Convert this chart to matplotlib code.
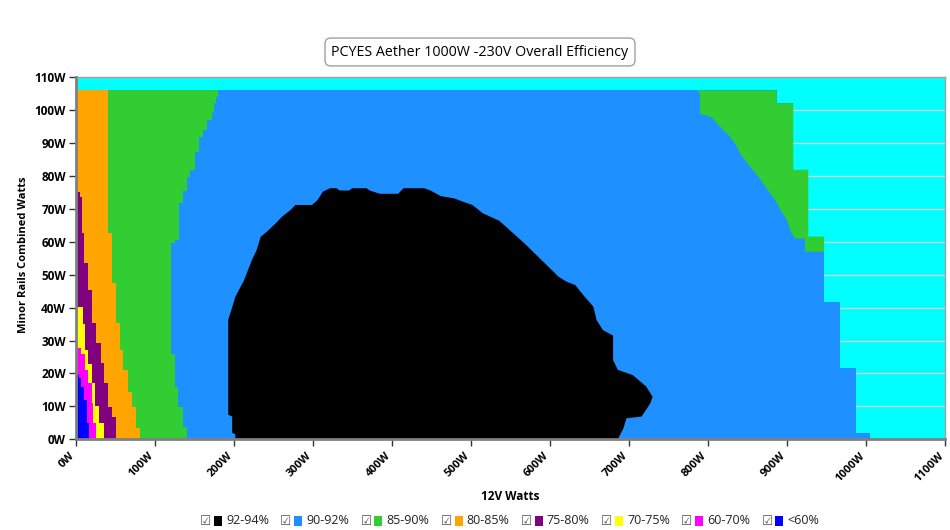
import numpy as np
import matplotlib
matplotlib.use("Agg")
import matplotlib.pyplot as plt
from matplotlib.patches import Rectangle
from matplotlib.transforms import ScaledTranslation

# ---------------- data ----------------
title = "PCYES Aether 1000W -230V Overall Efficiency"
x_label = "12V Watts"
y_label = "Minor Rails Combined Watts"
x_ticks = list(range(0, 1101, 100))
y_ticks = list(range(0, 111, 10))
x_tick_labels = [f"{v}W" for v in x_ticks]
y_tick_labels = [f"{v}W" for v in y_ticks]

band_labels = ["92-94%", "90-92%", "85-90%", "80-85%", "75-80%", "70-75%", "60-70%", "<60%"]
band_colors = ["#000000", "#1E90FF", "#32CD32", "#FFA500", "#800080", "#FFFF00", "#FF00FF", "#0000FF"]
background_color = "#00FFFF"

# outer edge of measured area (step: x value holds between consecutive y edges)
outer_y = [0, 1.8, 21.6, 41.8, 61.6, 81.9, 102.1, 106]
outer_x = [1005, 987, 967, 947, 927, 908, 887]

# left-side bands: right edge as steps from x = 0
green_y = [0, 3.8, 9.9, 15.8, 25.9, 59.6, 60.6, 71.7, 75.3, 79.8, 81.9, 87.4, 92, 94, 97.1, 99.1, 102.1, 104.1, 106]
green_x = [140.4, 136.2, 129.9, 125.6, 120.6, 125.6, 131.1, 136.2, 140.4, 144.6, 150.9, 156.4, 161.5, 165.7, 172, 175, 177.6, 180.5]

orange_y = [0, 3.3, 9.9, 14.5, 21.0, 27.1, 35.2, 47.4, 62.6, 106]
orange_x = [81.4, 76.3, 70.8, 66.6, 60.3, 56.0, 50.6, 45.5, 41.3]

purple_y = [0, 6.9, 9.9, 17, 23.1, 29.2, 35.2, 45.4, 53.5, 62.6, 73.5, 75.0]
purple_x = [51, 45.5, 41.3, 35.8, 31.6, 25.7, 21, 16, 10.5, 8.0, 5.4]

yellow_y = [0, 5, 10, 17, 23, 27, 35, 40.3]
yellow_x = [35.8, 30, 24.4, 20.2, 16, 11.8, 8.8]

magenta_y = [0, 5, 11, 17, 21, 26, 27.6]
magenta_x = [25.7, 22.3, 20, 16, 12, 7]

low_y = [0, 5, 12, 16, 18.5, 19.5]
low_x = [17, 14, 10, 7, 4]

# right-side 85-90% region: left boundary (x, y) bottom -> top
green_r_x = [923, 923, 910, 904, 900, 893, 885, 874, 864, 853, 843, 834, 828, 815, 805, 790, 790, 786]
green_r_y = [57, 61, 61, 63.6, 66.7, 69.2, 72.8, 76.3, 79.8, 83, 86, 90, 92, 95, 97.8, 99, 105, 106]

# 92-94% island outline
black_x = [202, 202, 198, 198, 193, 193, 197, 202, 213, 218, 223, 229, 234, 242, 253, 261, 272, 278,
           299, 306, 313, 322, 330, 334, 346, 350, 368, 372, 385, 408, 415, 441, 449, 462, 479, 490,
           502, 515, 536, 549, 568, 585, 600, 611, 621, 632, 642, 655, 659, 667, 680, 680, 686, 705,
           722, 730, 727, 716, 697, 693, 686]
black_y = [0, 1.5, 2, 6.9, 7.5, 36.3, 39.3, 43.3, 48.3, 51.4, 54.5, 57.5, 61.5, 63.1, 65.6, 67.6, 69.7, 71.2,
           71.2, 72.7, 75.3, 76.3, 76.3, 75.6, 75.6, 76.3, 76.3, 75.6, 74.6, 74.6, 76.3, 76.3, 75.6, 73.9, 73.2, 72.2,
           71.2, 68.7, 66.4, 63.6, 59.5, 55.5, 52, 49.4, 47.9, 46.9, 43.9, 40.3, 36.3, 33.2, 31.5, 24.1, 21.1, 19.5,
           16, 12.9, 10.9, 6.9, 6.4, 3.3, 0]


def step_between(y_edges, x_vals, ylo=None, yhi=None):
    ylo = y_edges[0] if ylo is None else ylo
    yhi = y_edges[-1] if yhi is None else yhi
    xs, ys = [], []
    for i, xv in enumerate(x_vals):
        a, b = max(y_edges[i], ylo), min(y_edges[i + 1], yhi)
        if b > a:
            xs += [xv, xv]
            ys += [a, b]
    return xs, ys


def left_band(ax, y_edges, x_vals, color, z):
    sx, sy = step_between(y_edges, x_vals)
    ax.fill([0] + sx + [0], [y_edges[0]] + sy + [y_edges[-1]], color=color, lw=0, zorder=z)


# ---------------- figure ----------------
plt.rcParams["font.family"] = ["Open Sans", "DejaVu Sans"]
fig = plt.figure(figsize=(9.5, 5.3), dpi=100)
ax = fig.add_axes([75.7 / 950, 1 - 439.3 / 530, (945 - 75.7) / 950, (439.3 - 77.3) / 530])
ax.set_facecolor(background_color)

# 90-92% base
left_band(ax, outer_y, outer_x, band_colors[1], 1)
# 85-90% right region
sx, sy = step_between(outer_y, outer_x, green_r_y[0], green_r_y[-1])
ax.fill(green_r_x + sx[::-1], green_r_y + sy[::-1], color=band_colors[2], lw=0, zorder=2)
# left bands
left_band(ax, green_y, green_x, band_colors[2], 2)
left_band(ax, orange_y, orange_x, band_colors[3], 3)
left_band(ax, purple_y, purple_x, band_colors[4], 4)
left_band(ax, yellow_y, yellow_x, band_colors[5], 5)
left_band(ax, magenta_y, magenta_x, band_colors[6], 6)
left_band(ax, low_y, low_x, band_colors[7], 7)
# 92-94% island
ax.fill(black_x, black_y, color=band_colors[0], lw=0, zorder=8)

ax.set_xlim(0, 1100)
ax.set_ylim(0, 110)
ax.set_yticks(y_ticks)
ax.set_yticklabels(y_tick_labels, fontsize=8.5, fontweight="bold")
ax.tick_params(direction="out", length=5, width=1, color="#333333", pad=2)
ax.tick_params(axis="x", pad=3)
ax.set_xticks(x_ticks)
ax.set_xticklabels(x_tick_labels, rotation=45, ha="right", va="top", rotation_mode="anchor",
                   fontsize=8, fontweight="bold")
shift = ScaledTranslation(-5 / 72, 0, fig.dpi_scale_trans)
for tick in ax.xaxis.get_major_ticks():
    tick.label1.set_transform(tick.label1.get_transform() + shift)
ax.yaxis.grid(True, color="#d0d0d0", lw=1)
ax.set_axisbelow(True)
for s in ["left", "bottom"]:
    ax.spines[s].set_color("#808080")
    ax.spines[s].set_linewidth(2)
for s in ["top", "right"]:
    ax.spines[s].set_color("#a0a0a0")
    ax.spines[s].set_linewidth(1)
ax.spines["left"].set_zorder(10)
ax.spines["bottom"].set_zorder(10)

ax_w = 945 - 75.7
ax_h = 439.3 - 77.3
ax.set_xlabel(x_label, fontsize=8.5, fontweight="bold", va="center")
ax.xaxis.set_label_coords((510 - 75.7) / ax_w, -(497 - 439.3) / ax_h)
ax.set_ylabel(y_label, fontsize=8, fontweight="bold", va="center")
ax.yaxis.set_label_coords(-(75.7 - 24) / ax_w, 0.5 + (258 - 254) / ax_h)

# title
fig.text(480 / 950, 1 - 52 / 530, title, ha="center", va="center", fontsize=10.3,
         bbox=dict(boxstyle="round,pad=0.45,rounding_size=0.4", fc="white", ec="#a0a0a0", lw=1))

# legend
y_leg = 1 - 521 / 530
start = 200
step = 80.2
for i, (lab, col) in enumerate(zip(band_labels, band_colors)):
    x0 = start + i * step
    fig.text(x0 / 950, y_leg, "\u2611", ha="left", va="center", fontsize=9, color="#555555",
             family=["DejaVu Sans"])
    fig.patches.append(Rectangle(((x0 + 14) / 950, y_leg - 5 / 530), 8 / 950, 10 / 530,
                                 transform=fig.transFigure, fc=col, ec="none"))
    fig.text((x0 + 26) / 950, y_leg, lab, ha="left", va="center", fontsize=9, color="#222222")

fig.savefig("out.png", dpi=100)
